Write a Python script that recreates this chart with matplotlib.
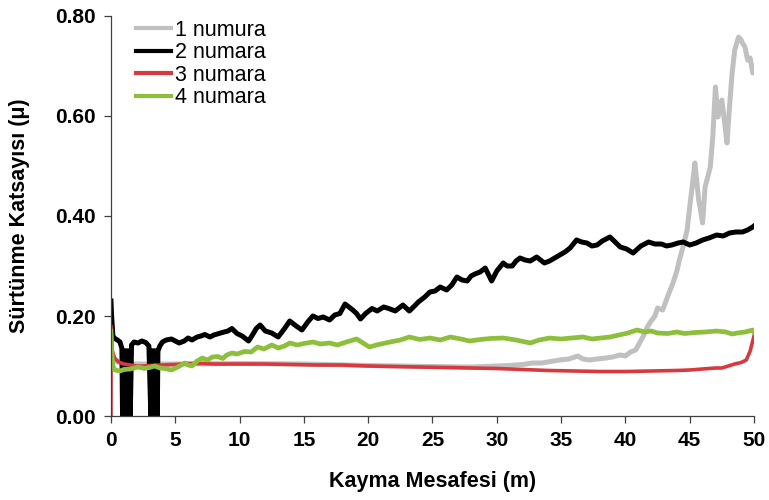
"""Friction coefficient vs sliding distance for four samples."""

import matplotlib
matplotlib.use("Agg")

import matplotlib.pyplot as plt
from matplotlib.ticker import FormatStrFormatter, MultipleLocator

plt.rcParams["font.family"] = ["Liberation Sans", "DejaVu Sans"]

# 1 numura (grey)
x1 = [0, 0.1, 0.5, 1.5, 5, 10, 15, 20, 25, 28, 30, 31, 32, 32.8, 33.5, 34.2,
      34.9, 35.6, 36.3, 36.7, 37.2, 37.8, 38.5, 39.0, 39.6, 40.0, 40.4, 40.8,
      41.1, 41.4, 41.7, 42.0, 42.3, 42.5, 42.9, 43.3, 43.7, 44.0, 44.2, 44.5,
      44.8, 45.0, 45.2, 45.4, 45.55, 45.7, 45.85, 46.0, 46.2, 46.6, 46.8, 47.0,
      47.2, 47.5, 47.7, 47.9, 48.1, 48.3, 48.5, 48.8, 49.0, 49.1, 49.3, 49.5,
      49.7, 49.9, 50.0]
y1 = [0.15, 0.12, 0.108, 0.104, 0.104, 0.105, 0.104, 0.101, 0.099, 0.098, 0.1,
      0.101, 0.103, 0.106, 0.106, 0.109, 0.112, 0.114, 0.12, 0.114, 0.112,
      0.114, 0.116, 0.118, 0.122, 0.12, 0.128, 0.132, 0.146, 0.16, 0.178, 0.19,
      0.2, 0.216, 0.212, 0.24, 0.266, 0.29, 0.312, 0.34, 0.372, 0.418, 0.46,
      0.506, 0.47, 0.432, 0.41, 0.386, 0.458, 0.498, 0.56, 0.658, 0.598, 0.632,
      0.59, 0.546, 0.62, 0.686, 0.732, 0.758, 0.752, 0.746, 0.738, 0.712,
      0.716, 0.686, 0.69]

# 2 numara (black)
x2 = [0, 0.05, 0.15, 0.3, 0.5, 0.7, 0.85,
      0.9, 0.95, 1.0, 1.05, 1.1, 1.15, 1.2, 1.25, 1.3, 1.35, 1.4, 1.45, 1.5,
      1.6, 1.8, 2.1, 2.4, 2.7, 2.95,
      3.1, 3.15, 3.2, 3.25, 3.3, 3.35, 3.4, 3.45, 3.5, 3.55, 3.6, 3.65,
      3.8, 4.0, 4.3, 4.7, 5.0, 5.3, 5.7, 6.0, 6.3, 6.7, 7.0, 7.3, 7.7, 8.0,
      8.4, 8.8, 9.1, 9.4, 9.8, 10.2, 10.7, 11.0, 11.3, 11.6, 12.0, 12.5, 13.0,
      13.5, 13.9, 14.4, 14.85, 15.3, 15.7, 16.1, 16.5, 17.0, 17.4, 17.8, 18.2,
      18.5, 18.8, 19.1, 19.4, 19.8, 20.3, 20.7, 21.2, 21.6, 22.1, 22.7, 23.2,
      23.6, 23.9, 24.4, 24.8, 25.2, 25.6, 26.1, 26.5, 26.9, 27.3, 27.7, 28.0,
      28.3, 28.7, 29.1, 29.6, 30.0, 30.5, 30.8, 31.2, 31.5, 31.8, 32.2, 32.6,
      33.1, 33.7, 34.1, 34.5, 34.9, 35.3, 35.7, 36.2, 36.6, 37.0, 37.4, 37.8,
      38.2, 38.8, 39.2, 39.6, 40.1, 40.6, 41.2, 41.8, 42.3, 42.8, 43.2, 43.6,
      44.1, 44.5, 45.0, 45.5, 46.0, 46.5, 47.1, 47.6, 48.1, 48.6, 49.1, 49.5,
      49.9, 50.0]
y2 = [0.23, 0.2, 0.16, 0.155, 0.152, 0.148, 0.135,
      0, 0.13, 0, 0.13, 0, 0.13, 0, 0.13, 0, 0.13, 0, 0.13, 0,
      0.142, 0.148, 0.146, 0.15, 0.147, 0.14,
      0, 0.13, 0, 0.13, 0, 0.13, 0, 0.13, 0, 0.13, 0, 0.13,
      0.14, 0.148, 0.152, 0.154, 0.15, 0.146, 0.15, 0.156, 0.152, 0.158, 0.16,
      0.163, 0.158, 0.162, 0.165, 0.168, 0.17, 0.175, 0.165, 0.16, 0.15,
      0.162, 0.175, 0.182, 0.17, 0.166, 0.158, 0.175, 0.19, 0.18, 0.172,
      0.188, 0.2, 0.195, 0.198, 0.192, 0.202, 0.205, 0.224, 0.218, 0.212,
      0.205, 0.194, 0.205, 0.215, 0.21, 0.218, 0.215, 0.21, 0.222, 0.21,
      0.22, 0.228, 0.238, 0.248, 0.25, 0.258, 0.252, 0.262, 0.278, 0.272,
      0.27, 0.28, 0.284, 0.288, 0.296, 0.27, 0.29, 0.306, 0.3, 0.3, 0.31,
      0.316, 0.312, 0.31, 0.318, 0.306, 0.31, 0.316, 0.322, 0.328, 0.336,
      0.352, 0.348, 0.346, 0.34, 0.342, 0.35, 0.358, 0.348, 0.338, 0.334,
      0.326, 0.34, 0.348, 0.344, 0.344, 0.34, 0.342, 0.346, 0.348, 0.342,
      0.346, 0.352, 0.356, 0.362, 0.36, 0.366, 0.368, 0.368, 0.372, 0.378,
      0.38]

# 3 numara (red)
x3 = [0, 0.01, 0.1, 0.3, 0.6, 1.0, 1.5, 2.0, 2.5, 3.0, 4.0, 5.0, 6.0, 7.0,
      8.0, 10, 12, 14, 16, 18, 20, 22, 24, 26, 28, 30, 32, 34, 36, 38, 40, 42,
      44, 45, 46, 47, 47.5, 48, 48.5, 49, 49.4, 49.7, 50]
y3 = [0, 0.18, 0.13, 0.115, 0.108, 0.104, 0.102, 0.1, 0.1, 0.101, 0.102,
      0.103, 0.105, 0.105, 0.104, 0.104, 0.104, 0.103, 0.102, 0.102, 0.1,
      0.099, 0.098, 0.097, 0.096, 0.095, 0.093, 0.091, 0.09, 0.089, 0.089,
      0.09, 0.091, 0.092, 0.094, 0.096, 0.096, 0.1, 0.104, 0.107, 0.112, 0.13,
      0.16]

# 4 numara (green)
x4 = [0, 0.05, 0.15, 0.3, 0.7, 1.0, 1.5, 2.1, 2.6, 3.0, 3.4, 3.8, 4.2, 4.7,
      5.2, 5.75, 6.0, 6.3, 6.7, 7.1, 7.5, 7.9, 8.3, 8.7, 9.0, 9.4, 9.8, 10.4,
      10.9, 11.4, 11.9, 12.5, 13.0, 13.5, 13.9, 14.5, 15.0, 15.7, 16.3, 17.0,
      17.6, 18.3, 19.1, 19.6, 20.1, 20.8, 21.7, 22.5, 23.2, 24.0, 24.8, 25.6,
      26.4, 27.2, 27.9, 28.7, 29.5, 30.5, 31.5, 32.6, 33.3, 34.1, 35.0, 35.8,
      36.7, 37.4, 38.1, 38.8, 39.5, 40.2, 40.9, 41.5, 42.0, 42.5, 43.3, 44.0,
      44.6, 45.4, 46.2, 47.1, 47.8, 48.3, 48.7, 49.3, 49.9, 50.0]
y4 = [0.17, 0.13, 0.1, 0.092, 0.09, 0.093, 0.094, 0.098, 0.095, 0.097, 0.1,
      0.096, 0.095, 0.092, 0.098, 0.106, 0.102, 0.1, 0.11, 0.116, 0.112, 0.118,
      0.119, 0.115, 0.122, 0.126, 0.124, 0.129, 0.128, 0.138, 0.134, 0.142,
      0.136, 0.14, 0.146, 0.142, 0.145, 0.148, 0.144, 0.146, 0.142, 0.148,
      0.154, 0.146, 0.138, 0.143, 0.148, 0.152, 0.158, 0.153, 0.156, 0.152,
      0.158, 0.154, 0.15, 0.153, 0.155, 0.156, 0.152, 0.146, 0.152, 0.156,
      0.154, 0.156, 0.158, 0.154, 0.156, 0.158, 0.162, 0.166, 0.172, 0.168,
      0.17, 0.166, 0.165, 0.168, 0.165, 0.167, 0.168, 0.17, 0.168, 0.164,
      0.166, 0.168, 0.172, 0.168]

labels = ["1 numura", "2 numara", "3 numara", "4 numara"]
colors = ["#c0c0c0", "#000000", "#d8393f", "#8dbf3c"]
widths = [3.6, 3.6, 2.6, 3.4]


def main() -> None:
    fig = plt.figure(figsize=(7.69, 5.0), dpi=100)
    ax = fig.add_axes([0.1443, 0.168, 0.8362, 0.80])

    series = [(x1, y1), (x2, y2), (x3, y3), (x4, y4)]
    for (xs, ys), lab, col, lw in zip(series, labels, colors, widths):
        ax.plot(xs, ys, color=col, lw=lw, label=lab, solid_joinstyle="round")

    ax.set_xlim(0, 50)
    ax.set_ylim(0, 0.80)
    ax.xaxis.set_major_locator(MultipleLocator(5))
    ax.yaxis.set_major_locator(MultipleLocator(0.2))
    ax.yaxis.set_major_formatter(FormatStrFormatter("%.2f"))

    for side in ("top", "right"):
        ax.spines[side].set_visible(False)
    for side in ("left", "bottom"):
        ax.spines[side].set_color("#404040")
        ax.spines[side].set_linewidth(0.9)

    ax.tick_params(direction="out", length=5, width=0.9, color="#404040",
                   labelsize=15, pad=6)
    for t in ax.get_xticklabels() + ax.get_yticklabels():
        t.set_fontweight("bold")

    ax.set_xlabel("Kayma Mesafesi (m)", fontsize=15.5, fontweight="bold",
                  labelpad=15)
    ax.set_ylabel("Sürtünme Katsayısı (μ)", fontsize=15.5, fontweight="bold",
                  labelpad=18)

    leg = ax.legend(loc="upper left", bbox_to_anchor=(0.025, 1.012),
                    frameon=False, fontsize=15.5, handlelength=1.65,
                    handletextpad=0.2, labelspacing=0.07, borderaxespad=0)
    for h in leg.get_lines():
        h.set_linewidth(3)

    fig.savefig("out.png", dpi=100)
    plt.close(fig)


if __name__ == "__main__":
    main()
